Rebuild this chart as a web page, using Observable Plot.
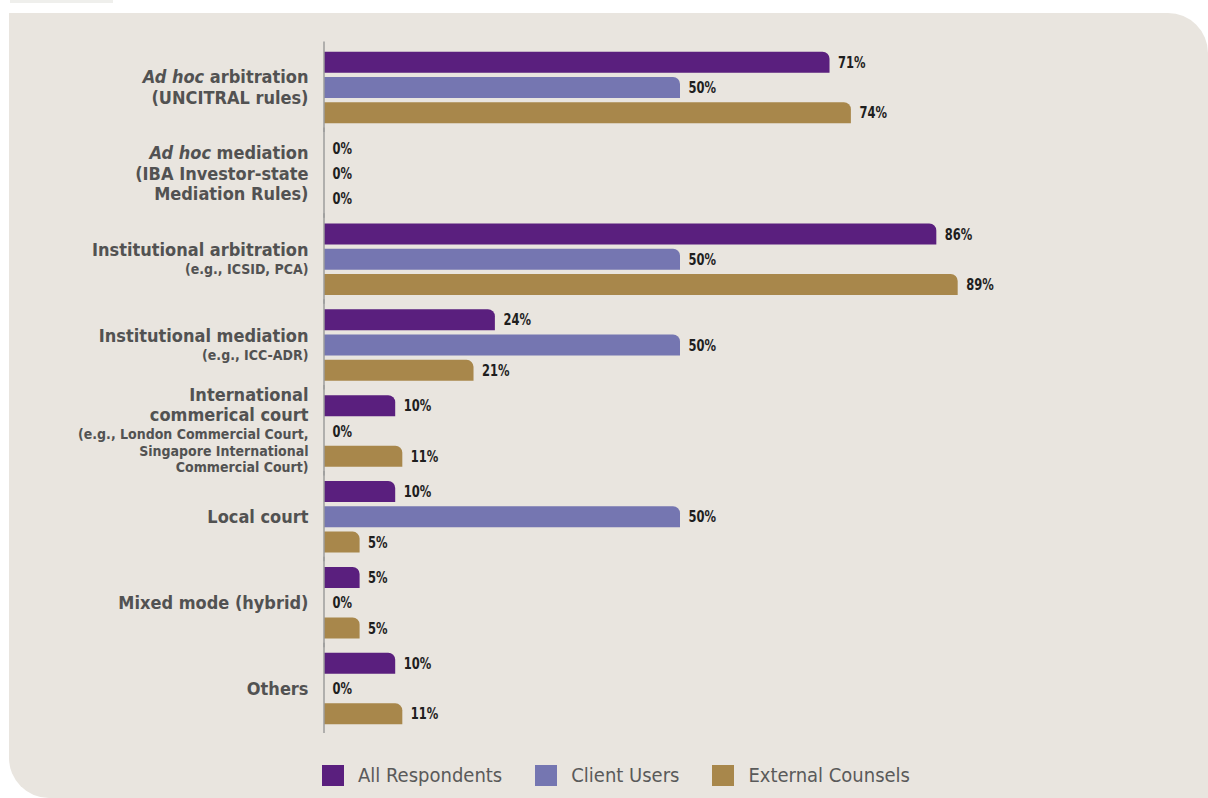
<!DOCTYPE html>
<html>
<head>
<meta charset="utf-8">
<script src="https://cdn.jsdelivr.net/npm/d3@7"></script>
<script src="https://cdn.jsdelivr.net/npm/@observablehq/plot@0.6"></script>
<style>
  html, body { margin: 0; padding: 0; background: #ffffff; width: 1208px; height: 798px; overflow: hidden; }
  #topbar { position: absolute; left: 10px; top: 0; width: 103px; height: 3px; background: #efefec; }
  #panel { position: absolute; left: 9px; top: 13px; width: 1199px; height: 785px; background: #e9e5df; border-radius: 0 40px 0 40px; }
  #chart { position: absolute; left: 0; top: 0; }
  #chart svg { background: transparent; overflow: visible; }
  #legend { position: absolute; left: 322px; top: 763px; display: flex; align-items: center;
    font-family: "Liberation Sans Narrow", "Arial Narrow", "DejaVu Sans Condensed", sans-serif; font-size: 20px; color: #5a5a5a; }
  .item { display: flex; align-items: center; margin-right: 33px; }
  .sw { width: 22px; height: 21px; margin-right: 14px; }
</style>
</head>
<body>
<div id="topbar"></div>
<div id="panel"></div>
<div id="chart"></div>
<div id="legend"></div>
<script>
const categories = [
  "Ad hoc arbitration (UNCITRAL rules)",
  "Ad hoc mediation (IBA Investor-state Mediation Rules)",
  "Institutional arbitration",
  "Institutional mediation",
  "International commerical court",
  "Local court",
  "Mixed mode (hybrid)",
  "Others"
];
const mainLabelLines = [
  ["Ad hoc arbitration", "(UNCITRAL rules)"],
  ["Ad hoc mediation", "(IBA Investor-state", "Mediation Rules)"],
  ["Institutional arbitration"],
  ["Institutional mediation"],
  ["International", "commerical court"],
  ["Local court"],
  ["Mixed mode (hybrid)"],
  ["Others"]
];
const subLabelLines = [
  [],
  [],
  ["(e.g., ICSID, PCA)"],
  ["(e.g., ICC-ADR)"],
  ["(e.g., London Commercial Court,", "Singapore International", "Commercial Court)"],
  [],
  [],
  []
];
const series = ["All Respondents", "Client Users", "External Counsels"];
const allRespondents   = [71, 0, 86, 24, 10, 10, 5, 10];
const clientUsers      = [50, 0, 50, 50, 0, 50, 0, 0];
const externalCounsels = [74, 0, 89, 21, 11, 5, 5, 11];
const colors = ["#5a1f7e", "#7576b1", "#a8874b"];

const FONT = '"Liberation Sans Narrow", "Arial Narrow", "DejaVu Sans Condensed", sans-serif';

// tidy rows
const seriesValues = [allRespondents, clientUsers, externalCounsels];
const rows = [];
categories.forEach((c, i) => series.forEach((s, j) => rows.push({category: c, series: s, value: seriesValues[j][i]})));

// label lines with vertical offsets (layout only)
const labelLines = [];
categories.forEach((c, i) => {
  const items = [
    ...mainLabelLines[i].map(t => ({text: t, kind: "main"})),
    ...subLabelLines[i].map(t => ({text: t, kind: "sub"}))
  ];
  let pos = 0;
  items.forEach((it, k) => {
    if (k > 0) {
      const prev = items[k - 1].kind;
      pos += prev === "main" && it.kind === "main" ? 20.5 : prev === "main" ? 19 : 16.5;
    }
    it.pos = pos;
  });
  const mid = pos / 2;
  items.forEach(it => labelLines.push({category: c, text: it.text, kind: it.kind, dy: it.pos - mid}));
});

const labelMarks = labelLines.map(d => Plot.text([d], {
  fy: "category",
  text: "text",
  frameAnchor: "left",
  textAnchor: "end",
  dx: -16,
  dy: d.dy,
  fill: "#525252",
  fontWeight: "bold",
  fontSize: d.kind === "main" ? 18 : 14,
  fontFamily: FONT
}));

const chart = Plot.plot({
  width: 1208,
  height: 745,
  marginLeft: 324,
  marginRight: 172,
  marginTop: 44.5,
  marginBottom: 13.5,
  style: {background: "transparent", fontFamily: FONT},
  x: {domain: [0, 100], axis: null},
  fy: {domain: categories, padding: 0, round: false, axis: null},
  y: {domain: series, paddingInner: 0.17, paddingOuter: 0.283, round: false, axis: null},
  color: {domain: series, range: colors},
  marks: [
    Plot.barX(rows.filter(d => d.value > 0), {fy: "category", y: "series", x: "value", fill: "series", rx2y1: 7}),
    Plot.ruleX([0], {stroke: "#9c9c9c", strokeWidth: 1.5, dx: -0.5, insetTop: -3, insetBottom: -1.5}),
    Plot.text(rows, {
      fy: "category", y: "series", x: "value",
      text: d => d.value + "%",
      dx: 8, textAnchor: "start",
      fill: "#1e1e1e", fontWeight: "bold", fontSize: 16, fontFamily: FONT,
      className: "vlabel"
    }),
    ...labelMarks
  ]
});

// condense value labels horizontally around their anchor
chart.querySelectorAll(".vlabel text").forEach(t => {
  const tr = t.getAttribute("transform") || "";
  t.setAttribute("transform", tr + " scale(0.8,1)");
});

// italic "Ad hoc"
chart.querySelectorAll("text").forEach(t => {
  const s = t.textContent;
  if (s.startsWith("Ad hoc ")) {
    t.textContent = "";
    const ns = "http://www.w3.org/2000/svg";
    const a = document.createElementNS(ns, "tspan");
    a.setAttribute("font-style", "italic");
    a.textContent = "Ad hoc";
    const b = document.createElementNS(ns, "tspan");
    b.textContent = s.slice(6);
    t.appendChild(a); t.appendChild(b);
  }
});

// fallback: round the top-right corner if rect corner options are unsupported
chart.querySelectorAll('g[aria-label="bar"] rect').forEach(r => {
  const x = +r.getAttribute("x"), y = +r.getAttribute("y");
  const w = +r.getAttribute("width"), h = +r.getAttribute("height");
  const rr = Math.min(7, w, h / 2);
  const p = document.createElementNS("http://www.w3.org/2000/svg", "path");
  for (const a of r.attributes) if (!["x", "y", "width", "height"].includes(a.name)) p.setAttribute(a.name, a.value);
  p.setAttribute("d", `M${x},${y}H${x + w - rr}A${rr},${rr} 0 0 1 ${x + w},${y + rr}V${y + h}H${x}Z`);
  r.replaceWith(p);
});

document.getElementById("chart").appendChild(chart);

const legend = document.getElementById("legend");
series.forEach((s, i) => {
  const item = document.createElement("div");
  item.className = "item";
  const sw = document.createElement("div");
  sw.className = "sw";
  sw.style.background = colors[i];
  const lab = document.createElement("span");
  lab.textContent = s;
  item.appendChild(sw); item.appendChild(lab);
  legend.appendChild(item);
});
</script>
</body>
</html>
